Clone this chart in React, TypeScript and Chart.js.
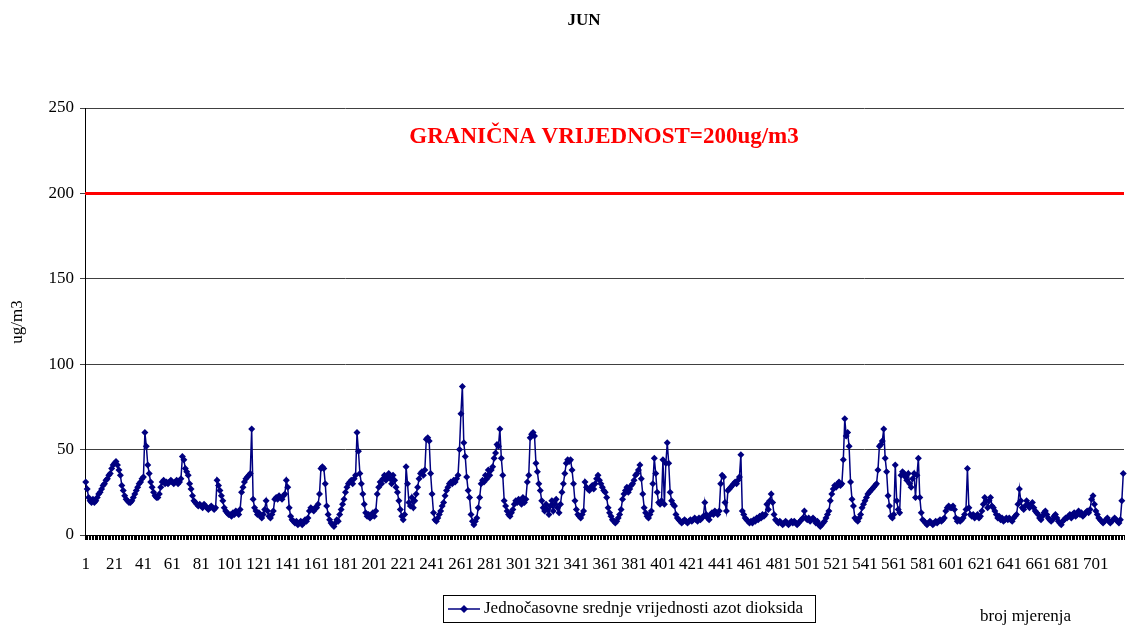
import React, { useEffect, useRef } from 'react';
import { Chart, registerables } from 'chart.js';

Chart.register(...registerables);

const CHART_TITLE = 'JUN';
const LIMIT_VALUE = 200;
const LIMIT_LABEL = 'GRANIČNA VRIJEDNOST=200ug/m3';
const SERIES_LABEL = 'Jednočasovne srednje vrijednosti azot dioksida';
const Y_TITLE = 'ug/m3';
const X_TITLE = 'broj mjerenja';
const Y_MIN = 0;
const Y_MAX = 250;
const Y_STEP = 50;
const X_TICK_STEP = 20;

const no2Part1 = [
  31, 27, 22, 20, 19, 21, 19, 20, 22, 24, 25, 27, 29, 30, 32, 33, 35, 36, 39, 41,
  42, 43, 41, 38, 35, 29, 26, 23, 21, 20, 19, 19, 20, 22, 24, 26, 28, 30, 31, 33,
  34, 60, 52, 41, 36, 31, 28, 25, 23, 22, 22, 24, 28, 31, 32, 30, 31, 30, 31, 32,
  31, 30, 31, 32, 30, 31, 33, 46, 44, 39, 37, 35, 30, 27, 23, 20, 19, 18, 17, 18,
  17, 16, 18, 17, 16, 15, 16, 17, 16, 15, 16, 32, 29, 26, 23, 20, 16, 14, 13, 12,
  12, 11, 13, 12, 14, 13, 12, 15, 25, 28, 31, 33, 34, 35, 36, 62, 21, 16, 14, 12,
];
const no2Part2 = [
  13, 11, 10, 12, 15, 20, 14, 11, 10, 12, 14, 21, 22, 21, 23, 22, 21, 23, 24, 32,
  28, 16, 11, 9, 8, 7, 8, 6, 7, 8, 6, 7, 9, 8, 10, 14, 16, 15, 14, 16,
  16, 18, 24, 39, 40, 39, 30, 17, 12, 9, 7, 6, 5, 7, 9, 8, 12, 15, 18, 21,
  25, 28, 30, 31, 32, 30, 33, 35, 60, 49, 36, 30, 24, 18, 13, 11, 12, 10, 11, 13,
  11, 14, 24, 28, 31, 30, 33, 35, 32, 34, 36, 33, 30, 35, 32, 28, 25, 20, 15, 11,
  9, 12, 40, 30, 19, 17, 22, 16, 20, 24, 28, 33, 36, 37, 35, 38, 56, 57, 55, 36,
];
const no2Part3 = [
  24, 13, 9, 8, 10, 12, 14, 17, 19, 23, 26, 28, 30, 31, 30, 32, 31, 33, 35, 50,
  71, 87, 54, 46, 34, 26, 22, 12, 8, 6, 8, 10, 16, 22, 30, 32, 31, 35, 33, 38,
  35, 38, 40, 45, 48, 53, 52, 62, 45, 35, 20, 17, 14, 12, 11, 13, 15, 18, 20, 19,
  21, 20, 18, 22, 19, 21, 31, 35, 57, 59, 60, 58, 42, 37, 30, 26, 20, 16, 14, 18,
  15, 12, 17, 20, 14, 18, 21, 16, 13, 18, 25, 30, 36, 42, 44, 43, 44, 38, 30, 20,
  15, 12, 11, 10, 12, 14, 31, 28, 27, 26, 28, 29, 27, 30, 33, 35, 32, 30, 28, 26,
];
const no2Part4 = [
  25, 22, 16, 13, 11, 9, 8, 7, 8, 10, 12, 15, 21, 24, 26, 28, 25, 27, 29, 30,
  32, 35, 36, 38, 41, 33, 24, 16, 13, 11, 10, 12, 14, 30, 45, 36, 25, 19, 18, 20,
  44, 18, 42, 54, 42, 25, 20, 18, 17, 12, 10, 9, 8, 7, 8, 9, 8, 7, 8, 9,
  8, 9, 10, 9, 8, 10, 9, 10, 11, 19, 12, 10, 9, 12, 13, 12, 14, 13, 12, 14,
  30, 35, 34, 19, 14, 26, 27, 28, 29, 30, 31, 30, 32, 34, 47, 14, 12, 10, 9, 8,
  7, 8, 7, 9, 8, 10, 9, 11, 10, 12, 11, 12, 18, 15, 20, 24, 19, 12, 9, 8,
];
const no2Part5 = [
  7, 8, 7, 6, 7, 8, 7, 6, 7, 8, 7, 8, 7, 6, 7, 8, 9, 10, 14, 10,
  9, 10, 8, 9, 10, 9, 7, 8, 6, 5, 6, 7, 8, 10, 12, 14, 20, 24, 27, 29,
  28, 30, 31, 29, 30, 44, 68, 58, 60, 52, 31, 21, 17, 10, 9, 8, 10, 12, 16, 18,
  20, 22, 24, 25, 26, 27, 28, 29, 30, 38, 52, 53, 55, 62, 45, 37, 23, 17, 11, 10,
  12, 41, 20, 15, 13, 35, 37, 36, 34, 32, 36, 30, 28, 33, 36, 22, 35, 45, 22, 13,
  9, 8, 7, 6, 7, 8, 7, 6, 7, 8, 7, 8, 9, 8, 9, 10, 14, 16, 17, 16,
];
const no2Part6 = [
  16, 17, 15, 10, 8, 9, 8, 9, 10, 12, 15, 39, 16, 12, 11, 12, 10, 11, 12, 10,
  11, 14, 18, 22, 20, 16, 20, 22, 17, 16, 14, 12, 10, 11, 9, 10, 8, 9, 10, 9,
  10, 9, 8, 10, 11, 12, 18, 27, 20, 16, 15, 17, 20, 18, 16, 17, 19, 16, 14, 13,
  12, 10, 9, 11, 13, 14, 12, 10, 9, 8, 9, 11, 12, 10, 8, 7, 6, 8, 9, 10,
  10, 11, 12, 10, 12, 13, 11, 12, 14, 12, 13, 11, 12, 13, 14, 13, 15, 21, 23, 18,
  14, 12, 10, 9, 8, 7, 8, 9, 10, 8, 7, 8, 9, 10, 9, 8, 7, 9, 20, 36,
];

const no2Values = [...no2Part1, ...no2Part2, ...no2Part3, ...no2Part4, ...no2Part5, ...no2Part6];
const categories = no2Values.map((_, i) => String(i + 1));

const SERIF = '"Liberation Serif", "Times New Roman", serif';
const NAVY = '#000080';

const decorPlugin = {
  id: 'decor',
  beforeDatasetsDraw(chart: any) {
    const { ctx, chartArea, scales } = chart;
    const y = scales.y.getPixelForValue(LIMIT_VALUE);
    ctx.save();
    ctx.strokeStyle = '#ff0000';
    ctx.lineWidth = 3;
    ctx.beginPath();
    ctx.moveTo(chartArea.left, y);
    ctx.lineTo(chartArea.right, y);
    ctx.stroke();
    ctx.restore();
  },
  afterDraw(chart: any) {
    const { ctx } = chart;
    ctx.save();
    ctx.fillStyle = '#000';
    ctx.textAlign = 'center';
    ctx.textBaseline = 'middle';
    ctx.font = `bold 17px ${SERIF}`;
    ctx.fillText(CHART_TITLE, 584, 21);

    ctx.fillStyle = '#ff0000';
    ctx.font = `bold 23px ${SERIF}`;
    ctx.fillText(LIMIT_LABEL, 604, 137);

    ctx.fillStyle = '#000';
    ctx.font = `17px ${SERIF}`;
    ctx.save();
    ctx.translate(18, 322);
    ctx.rotate(-Math.PI / 2);
    ctx.fillText(Y_TITLE, 0, 0);
    ctx.restore();

    ctx.textAlign = 'left';
    ctx.fillText(X_TITLE, 980, 617);

    // legend
    ctx.strokeStyle = '#000';
    ctx.lineWidth = 1;
    ctx.strokeRect(443.5, 595.5, 372, 27);
    ctx.strokeStyle = NAVY;
    ctx.lineWidth = 1.5;
    ctx.beginPath();
    ctx.moveTo(448, 609);
    ctx.lineTo(480, 609);
    ctx.stroke();
    ctx.fillStyle = NAVY;
    ctx.beginPath();
    ctx.moveTo(464, 605);
    ctx.lineTo(468, 609);
    ctx.lineTo(464, 613);
    ctx.lineTo(460, 609);
    ctx.closePath();
    ctx.fill();
    ctx.fillStyle = '#000';
    ctx.fillText(SERIES_LABEL, 484, 609);
    ctx.restore();
  },
};

export default function App() {
  const canvasRef = useRef<HTMLCanvasElement | null>(null);

  useEffect(() => {
    const canvas = canvasRef.current;
    if (!canvas) return;
    const chart = new Chart(canvas, {
      type: 'line',
      data: {
        labels: categories,
        datasets: [
          {
            label: SERIES_LABEL,
            data: no2Values,
            borderColor: NAVY,
            backgroundColor: NAVY,
            borderWidth: 1.5,
            pointStyle: 'rectRot',
            pointRadius: 3.5,
            pointBorderWidth: 0,
            pointBackgroundColor: NAVY,
            tension: 0,
          },
        ],
      },
      options: {
        responsive: false,
        animation: false,
        layout: { padding: { top: 108, left: 0, right: 0, bottom: 0 } },
        plugins: {
          legend: { display: false },
          title: { display: false },
          tooltip: { enabled: false },
        },
        scales: {
          x: {
            type: 'category',
            offset: true,
            grid: {
              display: true,
              drawOnChartArea: false,
              drawTicks: true,
              tickLength: 5,
              color: '#000',
              offset: true,
            },
            border: { display: true, color: '#000', width: 1 },
            ticks: {
              autoSkip: false,
              maxRotation: 0,
              minRotation: 0,
              padding: 14,
              color: '#000',
              font: { family: SERIF, size: 17 },
              callback: (_v: any, idx: number) => (idx % X_TICK_STEP === 0 ? categories[idx] : ''),
            },
            afterFit: (s: any) => {
              s.height = 92;
              s.paddingRight = 0;
            },
          },
          y: {
            min: Y_MIN,
            max: Y_MAX,
            ticks: {
              stepSize: Y_STEP,
              padding: 6,
              color: '#000',
              font: { family: SERIF, size: 17 },
            },
            grid: { color: '#404040', tickLength: 5, lineWidth: 1 },
            border: { display: true, color: '#000', width: 1 },
            afterFit: (s: any) => {
              s.width = 85;
            },
          },
        },
      },
      plugins: [decorPlugin],
    } as any);
    return () => chart.destroy();
  }, []);

  return (
    <div style={{ position: 'fixed', left: 0, top: 0, width: 1128, height: 627, background: '#fff' }}>
      <canvas ref={canvasRef} width={1128} height={627} style={{ display: 'block' }} />
    </div>
  );
}
